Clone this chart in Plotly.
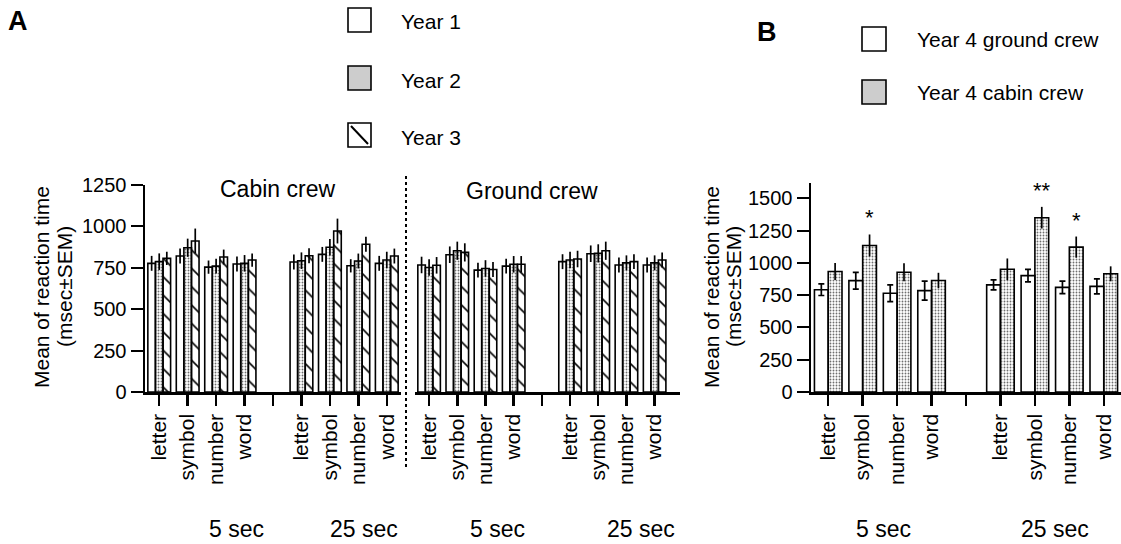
import plotly.graph_objects as go

W, H = 1121, 544

# ---------------- data ----------------
categories = ["letter", "symbol", "number", "word"]
durations = ["5 sec", "25 sec"]

# Panel A (order: 5 sec letter..word, 25 sec letter..word)
cabin_year1 = [777, 821, 754, 773, 785, 831, 762, 777]
cabin_year2 = [787, 871, 760, 777, 793, 874, 791, 797]
cabin_year3 = [807, 912, 815, 797, 823, 972, 892, 821]
cabin_err1 = [45, 45, 40, 45, 45, 45, 40, 45]
cabin_err2 = [50, 55, 45, 50, 50, 50, 45, 50]
cabin_err3 = [40, 75, 45, 40, 45, 75, 45, 45]

ground_year1 = [767, 829, 736, 760, 787, 835, 767, 767]
ground_year2 = [752, 853, 746, 771, 797, 837, 780, 780]
ground_year3 = [765, 843, 740, 771, 803, 853, 787, 797]
ground_err1 = [50, 50, 45, 45, 45, 50, 45, 45]
ground_err2 = [50, 55, 50, 50, 50, 55, 45, 45]
ground_err3 = [50, 55, 45, 50, 50, 55, 45, 45]

# Panel B
year4_ground = [793, 863, 765, 786, 830, 902, 811, 819]
year4_ground_err = [45, 65, 65, 74, 39, 49, 48, 58]
year4_cabin = [934, 1136, 928, 864, 951, 1351, 1123, 916]
year4_cabin_err = [65, 85, 70, 60, 84, 84, 82, 58]
significance = ["", "*", "", "", "", "**", "*", ""]

legend_A = ["Year 1", "Year 2", "Year 3"]
legend_B = ["Year 4 ground crew", "Year 4 cabin crew"]
yticks_A = [0, 250, 500, 750, 1000, 1250]
yticks_B = [0, 250, 500, 750, 1000, 1250, 1500]

# ---------------- helpers ----------------
FONT = "Liberation Sans, Arial, sans-serif"
x_keys = [f"{d}|{c}" for d in durations for c in categories]
cat_array = x_keys[:4] + ["gap"] + x_keys[4:]
tick_text = categories + [""] + categories


def px(x):
    return x / W


def py(y):
    return 1 - y / H


STYLE = {
    "Year 1": dict(color="white"),
    "Year 2": dict(color="#d4d4d4",
                   pattern=dict(shape=".", fgcolor="#6e6e6e", size=3, solidity=0.3)),
    "Year 3": dict(color="white",
                   pattern=dict(shape="\\", fgcolor="black", size=13, solidity=0.12)),
}


def bar(name, vals, errs, xa, ya, style, cap=0):
    m = dict(line=dict(color="black", width=1.6))
    m.update(style)
    return go.Bar(x=x_keys, y=vals, name=name, xaxis=xa, yaxis=ya, marker=m,
                  showlegend=False,
                  error_y=dict(type="data", array=errs, color="black",
                               thickness=1.7, width=cap))


fig = go.Figure()
for name, vals, errs in zip(legend_A, [cabin_year1, cabin_year2, cabin_year3],
                            [cabin_err1, cabin_err2, cabin_err3]):
    fig.add_trace(bar(name, vals, errs, "x", "y", STYLE[name]))
for name, vals, errs in zip(legend_A, [ground_year1, ground_year2, ground_year3],
                            [ground_err1, ground_err2, ground_err3]):
    fig.add_trace(bar(name, vals, errs, "x2", "y2", STYLE[name]))
fig.add_trace(bar(legend_B[0], year4_ground, year4_ground_err, "x3", "y3",
                  STYLE["Year 1"], cap=3))
fig.add_trace(bar(legend_B[1], year4_cabin, year4_cabin_err, "x3", "y3",
                  STYLE["Year 2"], cap=0))

xtickfont = dict(family=FONT, size=21, color="black")
ytickfont = dict(family=FONT, size=20, color="black")
xcommon = dict(type="category", categoryorder="array", categoryarray=cat_array,
               tickmode="array", tickvals=cat_array, ticktext=tick_text,
               tickangle=-90, range=[-0.5, 8.5], showline=True, linecolor="black",
               linewidth=2.5, ticks="outside", ticklen=11, tickwidth=2.5,
               tickcolor="black", tickfont=xtickfont, showgrid=False, zeroline=False,
               fixedrange=True, automargin=False)
ycommon = dict(showline=True, linecolor="black", linewidth=2.5, ticks="outside",
               ticklen=12, tickwidth=2, tickcolor="black", tickfont=ytickfont,
               showgrid=False, zeroline=False, fixedrange=True, automargin=False)

y_bottom = py(392)
fig.update_layout(
    template="none",
    width=W, height=H, autosize=False,
    margin=dict(l=0, r=0, t=0, b=0, pad=0, autoexpand=False),
    paper_bgcolor="white", plot_bgcolor="white",
    barmode="group", bargap=0.2, bargroupgap=0,
    showlegend=False,
    font=dict(family=FONT, size=20, color="black"),
    xaxis=dict(xcommon, domain=[px(145), px(401)], anchor="y"),
    yaxis=dict(ycommon, domain=[y_bottom, py(185)], range=[0, 1250],
               tickvals=yticks_A, anchor="x"),
    xaxis2=dict(xcommon, domain=[px(415), px(680)], anchor="y2",
                range=[-0.5, 8.9]),
    yaxis2=dict(domain=[y_bottom, py(185)], range=[0, 1250], visible=False,
                anchor="x2", automargin=False),
    xaxis3=dict(xcommon, domain=[px(811), 1.0], anchor="y3"),
    yaxis3=dict(ycommon, domain=[y_bottom, py(183)], range=[0, 1620],
                tickvals=yticks_B, anchor="x3"),
)

ann = []
shapes = []


def text(x, y, s, size=20, angle=0, bold=False, xanchor="center"):
    ann.append(dict(x=px(x), y=py(y), xref="paper", yref="paper", text=s,
                    showarrow=False, textangle=angle, xanchor=xanchor,
                    yanchor="middle",
                    font=dict(family=FONT, size=size, color="black",
                              weight="bold" if bold else "normal")))


# panel letters
text(18, 21, "A", size=27, bold=True)
text(767, 32, "B", size=27, bold=True)

# panel titles
text(277, 189, "Cabin crew", size=23)
text(532, 191, "Ground crew", size=23)

# y-axis titles
text(41, 287, "Mean of reaction time", size=21, angle=-90)
text(64, 287, "(msec±SEM)", size=21, angle=-90)
text(711, 287, "Mean of reaction time", size=21, angle=-90)
text(733, 287, "(msec±SEM)", size=21, angle=-90)

# duration group labels
for xc, lab in zip([236, 364, 497, 641, 883, 1055], durations * 3):
    text(xc, 529, lab, size=23)

# significance stars on panel B (anchored to data)
for i, s in enumerate(significance):
    if s:
        ann.append(dict(x=x_keys[i], y=year4_cabin[i] + year4_cabin_err[i],
                        xref="x3", yref="y3", text=s, showarrow=False,
                        xshift=7, yshift=2, yanchor="bottom",
                        font=dict(family=FONT, size=22, color="black")))

# legend A (drawn)
leg_rows_A = [20, 78, 135]
for name, yc in zip(legend_A, leg_rows_A):
    x0, x1, y0, y1 = 348, 371, yc - 12, yc + 12
    fill = "#cdcdcd" if name == "Year 2" else "white"
    shapes.append(dict(type="rect", xref="paper", yref="paper",
                       x0=px(x0), x1=px(x1), y0=py(y1), y1=py(y0),
                       line=dict(color="black", width=1.6), fillcolor=fill))
    if name == "Year 3":
        shapes.append(dict(type="line", xref="paper", yref="paper",
                           x0=px(x0 + 3), y0=py(y0 + 3), x1=px(x1 - 3), y1=py(y1 - 3),
                           line=dict(color="black", width=2)))
    text(399, yc + 2, name, size=21, xanchor="left")

# legend B (drawn)
leg_rows_B = [39, 92]
for name, yc in zip(legend_B, leg_rows_B):
    x0, x1, y0, y1 = 862, 886, yc - 12, yc + 12
    fill = "#cdcdcd" if "cabin" in name else "white"
    shapes.append(dict(type="rect", xref="paper", yref="paper",
                       x0=px(x0), x1=px(x1), y0=py(y1), y1=py(y0),
                       line=dict(color="black", width=1.6), fillcolor=fill))
    text(915, yc + 1, name, size=21, xanchor="left")

# dotted divider between cabin and ground crew
shapes.append(dict(type="line", xref="paper", yref="paper",
                   x0=px(406), x1=px(406), y0=py(176), y1=py(468),
                   line=dict(color="black", width=2, dash="dot")))

fig.update_layout(annotations=ann, shapes=shapes)
fig.write_html(
    "out.html",
    config={"displayModeBar": False, "staticPlot": True},
    post_script=(
        "document.documentElement.style.margin='0';"
        "document.documentElement.style.overflow='hidden';"
        "document.body.style.margin='0';document.body.style.padding='0';"
        "document.body.style.overflow='hidden';"
        "var gd=document.getElementById('{plot_id}');"
        "gd.style.position='fixed';gd.style.top='0px';gd.style.left='0px';"
    ),
)
